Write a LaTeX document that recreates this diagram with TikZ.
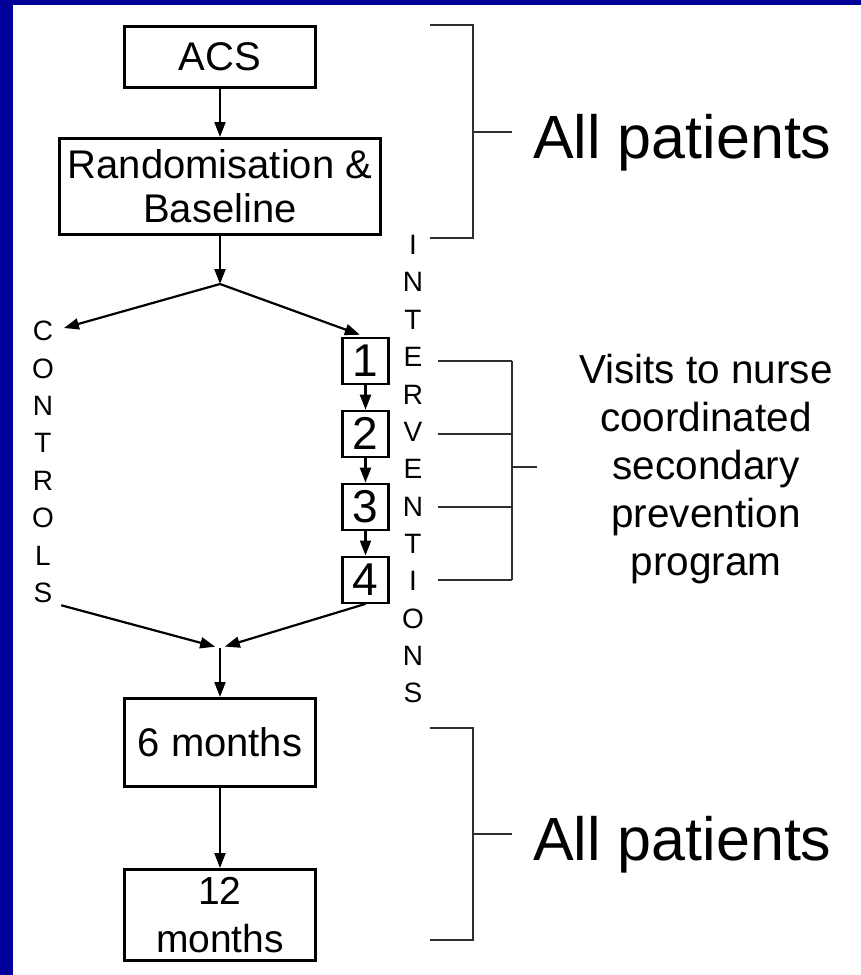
\documentclass[tikz,border=0pt]{standalone}
\usepackage{fontspec}
\setmainfont{Liberation Sans}
\usetikzlibrary{arrows.meta,positioning}
\definecolor{SlideBlue}{HTML}{000099}
\definecolor{BracketGray}{HTML}{2E2E2E}

\begin{document}
\begin{tikzpicture}[x=1pt, y=-1pt, every node/.style={font=\fontsize{40}{44}\selectfont}]
  \tikzstyle{stagebox}=[rectangle, draw=black, line width=3pt, minimum width=191pt, inner sep=0pt, align=center]
  \tikzstyle{visit}=[rectangle, draw=black, line width=2.4pt, minimum width=46pt, minimum height=46pt, inner sep=0pt, font=\fontsize{46}{46}\selectfont]
  \tikzstyle{letter}=[inner sep=0pt, font=\fontsize{28}{28}\selectfont]
  \tikzstyle{flow}=[-{Triangle[length=15pt,width=11pt]}, line width=2.2pt]
  \tikzstyle{bracket}=[line width=2pt, color=BracketGray]
  \useasboundingbox (0,0) rectangle (861,975);
  \fill[SlideBlue] (0,0) rectangle (861,5);
  \fill[SlideBlue] (0,0) rectangle (13,975);
  % main column
  \node[stagebox, minimum height=61pt] (acs) at (220,57) {ACS};
  \node[stagebox, minimum width=321pt, minimum height=96pt, below=48pt of acs] (rand) {Randomisation \&\\Baseline};
  \coordinate[below=48pt of rand] (split);
  \coordinate (merge) at (220,648);
  \node[stagebox, minimum height=88pt, below=49pt of merge] (six) {6 months};
  \node[stagebox, minimum height=91pt, below=80pt of six, font=\fontsize{39}{48}\selectfont] (twelve) {12\\months};
  % vertical labels
  \foreach \ch [count=\i] in {C,O,N,T,R,O,L,S}
    \node[letter] (c\i) at (43, {331+37.4*(\i-1)}) {\ch};
  \foreach \ch [count=\i] in {I,N,T,E,R,V,E,N,T,I,O,N,S}
    \node[letter] (iv\i) at (413, {245+37.35*(\i-1)}) {\ch};
  % nurse visits
  \foreach \n in {1,...,4}
    \node[visit] (b\n) at (365.5, {361+72.9*(\n-1)}) {\n};
  \foreach \n [remember=\n as \p (initially 1)] in {2,3,4}
    \draw[flow] (b\p) -- (b\n);
  % arrows
  \draw[flow] (acs) -- (rand);
  \draw[flow] (rand) -- (split);
  \draw[flow, shorten >=11pt] (split) -- (c1.east);
  \draw[flow, shorten >=6pt] (split) -- (b1.north);
  \draw[flow, shorten <=9pt, shorten >=5pt] (c8.south east) -- (merge);
  \draw[flow, shorten >=5pt] (b4.south) -- (merge);
  \draw[flow] (merge) -- (six);
  \draw[flow] (six) -- (twelve);
  % brackets
  \draw[bracket] (430,25) -- (473,25) -- (473,238) -- (430,238);
  \draw[bracket] (473,132) -- (512,132);
  \draw[bracket] (430,728) -- (473,728) -- (473,940) -- (430,940);
  \draw[bracket] (473,834) -- (512,834);
  \foreach \n in {1,...,4}
    \draw[bracket] (438,0 |- b\n) -- (512,0 |- b\n);
  \draw[bracket] (512,0 |- b1) -- (512,0 |- b4);
  \draw[bracket] (512,467) -- (537,467);
  \node[anchor=base west, inner sep=0pt, font=\fontsize{61}{61}\selectfont] (alltop) at (533,158) {All patients};
  \node[anchor=base west, inner sep=0pt, font=\fontsize{61}{61}\selectfont] (allbottom) at (533,860) {All patients};
  \node[align=center, font=\fontsize{40.5}{48}\selectfont] (visits) at (706,469) {Visits to nurse\\coordinated\\secondary\\prevention\\program};
\end{tikzpicture}
\end{document}
